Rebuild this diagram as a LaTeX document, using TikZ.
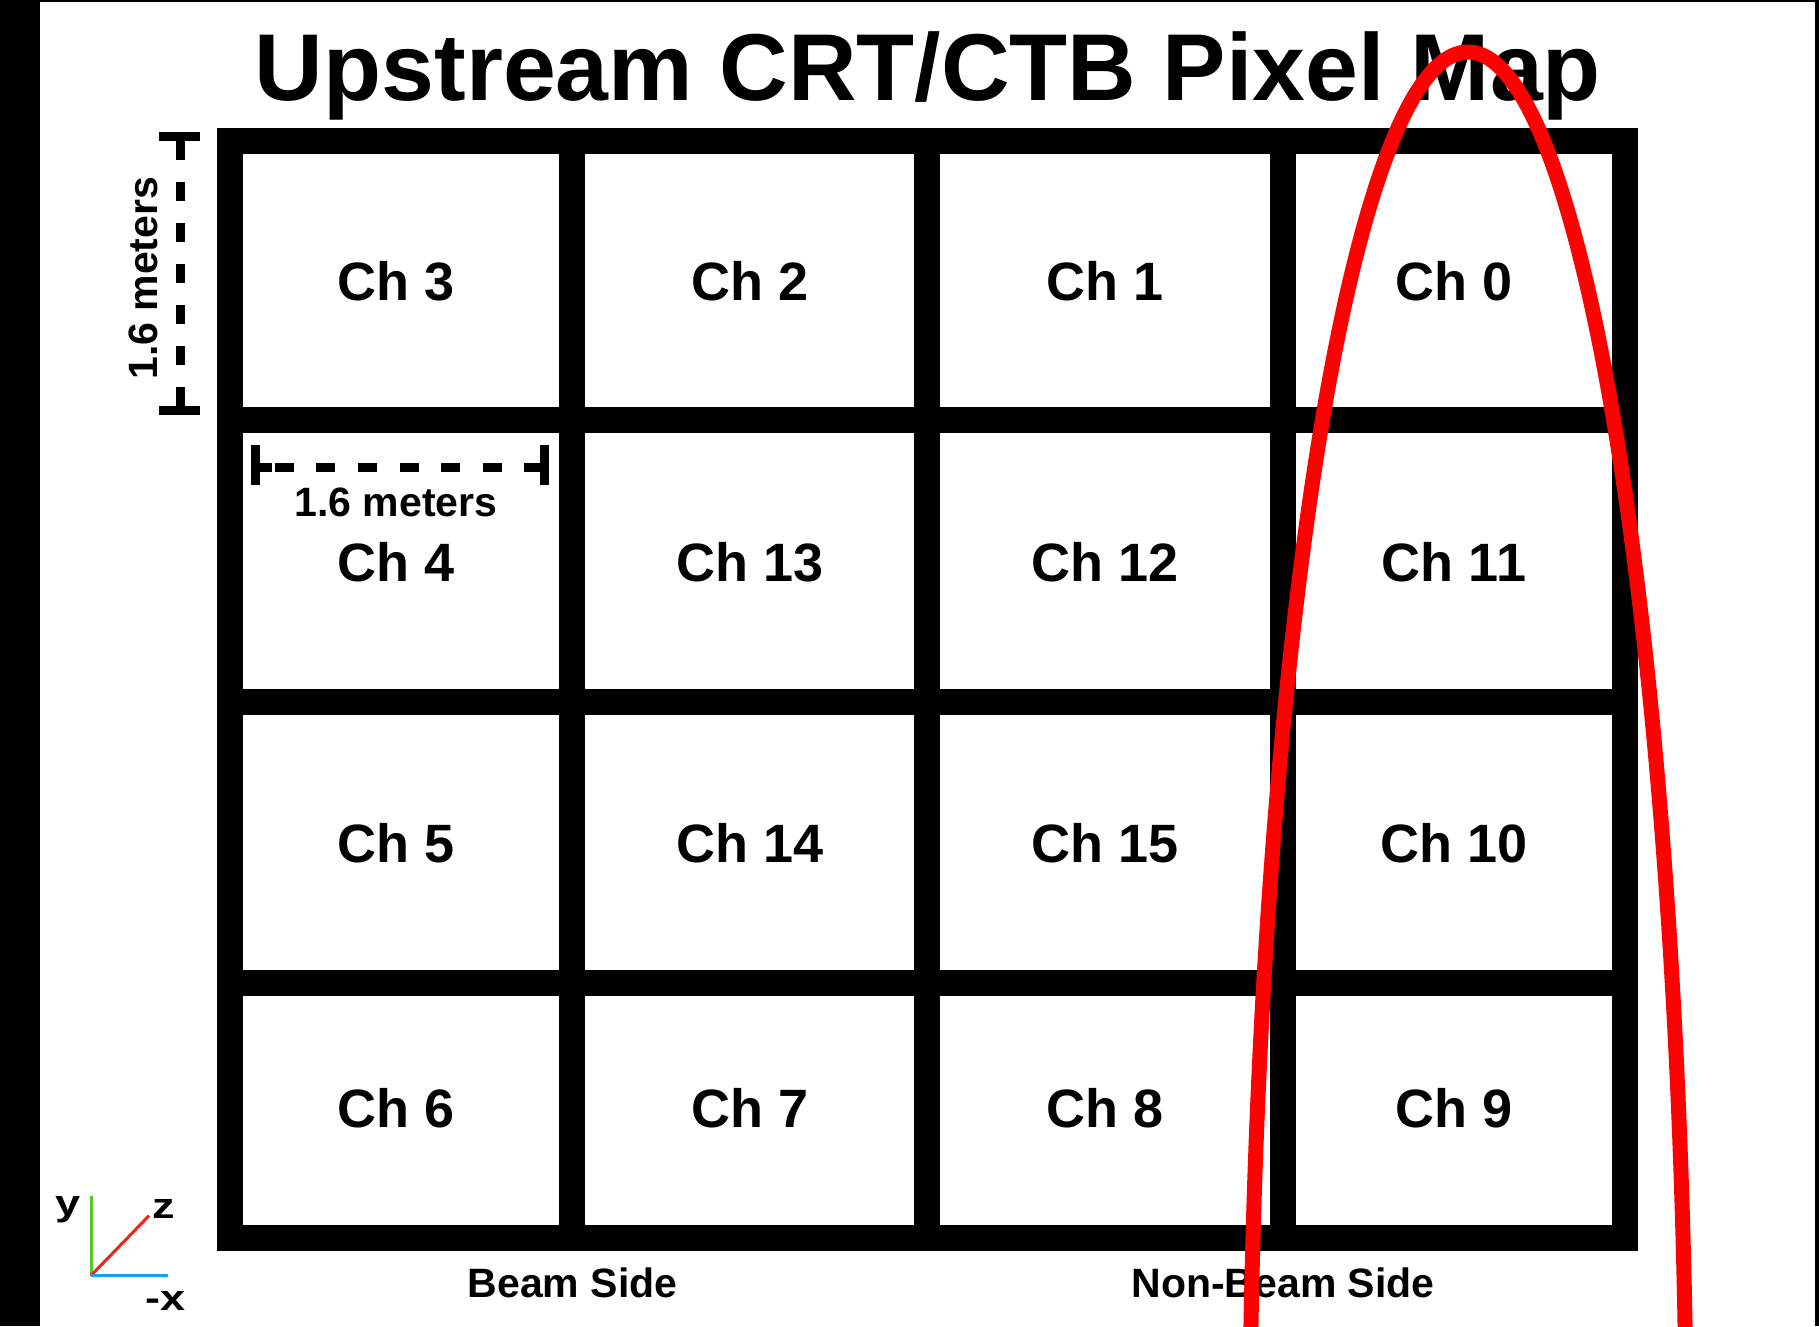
\documentclass[tikz,border=0pt]{standalone}
\usepackage{fontspec}
\setmainfont{Liberation Sans}
\begin{document}
\begin{tikzpicture}[x=1pt,y=-1pt,
  gridline/.style={line width=26pt,line join=miter,black},
  barline/.style={line width=9pt,black},
  chlabel/.style={font=\fontsize{54}{60}\selectfont\bfseries,inner sep=0pt},
  meterlabel/.style={font=\fontsize{41}{46}\selectfont\bfseries,inner sep=0pt,anchor=base},
  sidelabel/.style={font=\fontsize{41}{46}\selectfont\bfseries,inner sep=0pt,anchor=base},
  axlabel/.style={font=\fontsize{36}{40}\selectfont\bfseries,inner sep=0pt,anchor=base,xscale=1.25},
  redarc/.style={line width=15pt,color={rgb,255:red,255;green,0;blue,0}}]
\fill[black] (0,0) rectangle (1819,1326);
\fill[white] (40,2) rectangle (1815,1326);
\useasboundingbox (0,0) rectangle (1819,1326);

% title
\node[anchor=base,inner sep=0pt,font=\fontsize{95}{100}\selectfont\bfseries] (title) at (928,100) {Upstream CRT/CTB Pixel Map};

% grid
\draw[gridline] (229.7,141) rectangle (1625.3,1237.5);
\draw[gridline] (572.2,141) -- (572.2,1237.5);
\draw[gridline] (927,141) -- (927,1237.5);
\draw[gridline] (1282.7,141) -- (1282.7,1237.5);
\draw[gridline] (229.7,419.5) -- (1625.3,419.5);
\draw[gridline] (229.7,701.7) -- (1625.3,701.7);
\draw[gridline] (229.7,983.3) -- (1625.3,983.3);

% channel labels
\node[chlabel] (ch3) at (396,281) {Ch 3};
\node[chlabel] (ch2) at (749.6,281) {Ch 2};
\node[chlabel] (ch1) at (1104.9,281) {Ch 1};
\node[chlabel] (ch0) at (1454,281) {Ch 0};
\node[chlabel] (ch4) at (396,562) {Ch 4};
\node[chlabel] (ch13) at (749.6,562) {Ch 13};
\node[chlabel] (ch12) at (1104.9,562) {Ch 12};
\node[chlabel] (ch11) at (1454,562) {Ch 11};
\node[chlabel] (ch5) at (396,843) {Ch 5};
\node[chlabel] (ch14) at (749.6,843) {Ch 14};
\node[chlabel] (ch15) at (1104.9,843) {Ch 15};
\node[chlabel] (ch10) at (1454,843) {Ch 10};
\node[chlabel] (ch6) at (396,1108) {Ch 6};
\node[chlabel] (ch7) at (749.6,1108) {Ch 7};
\node[chlabel] (ch8) at (1104.9,1108) {Ch 8};
\node[chlabel] (ch9) at (1454,1108) {Ch 9};

% vertical scale bar
\coordinate (vtop) at (180,141);
\coordinate (vbot) at (180,406);
\draw[barline] (159,136) -- (200,136);
\draw[barline] (159,410) -- (200,410);
\draw[barline,dash pattern=on 19pt off 22pt] (vtop) -- (vbot);
\node[meterlabel,rotate=90] (vmeter) at (157,278.3) {1.6 meters};

% horizontal scale bar
\coordinate (hl) at (274.8,467);
\coordinate (hr) at (541,467);
\draw[barline] (255,445) -- (255,485);
\draw[barline] (544.5,445) -- (544.5,485);
\draw[barline] (255,467) -- (272,467);
\draw[barline,dash pattern=on 19pt off 22.6pt] (hl) -- (hr);
\node[meterlabel] (hmeter) at (396,516.5) {1.6 meters};

% side labels
\node[sidelabel] (beam) at (572.5,1297) {Beam Side};
\node[sidelabel] (nonbeam) at (1283,1297) {Non-Beam Side};

% axes
\coordinate (o) at (91,1275.5);
\coordinate (ytip) at (91,1196);
\coordinate (ztip) at (149,1215.7);
\coordinate (xtip) at (168.3,1275.5);
\draw[line width=3pt,color={rgb,255:red,80;green,200;blue,40}] (o) -- (ytip);
\draw[line width=3pt,color={rgb,255:red,235;green,40;blue,20}] (o) -- (ztip);
\draw[line width=3pt,color={rgb,255:red,20;green,160;blue,255}] (o) -- (xtip);
\node[axlabel] (ylab) at (68,1215) {y};
\node[axlabel] (zlab) at (163.3,1218) {z};
\node[axlabel] (xlab) at (165.7,1310) {-x};

% red arch
\begin{scope}
\clip (0,0) rectangle (1819,1326);
\draw[redarc] (1468,1500) ellipse [x radius=218.6pt, y radius=1448pt];
\end{scope}
\end{tikzpicture}
\end{document}
